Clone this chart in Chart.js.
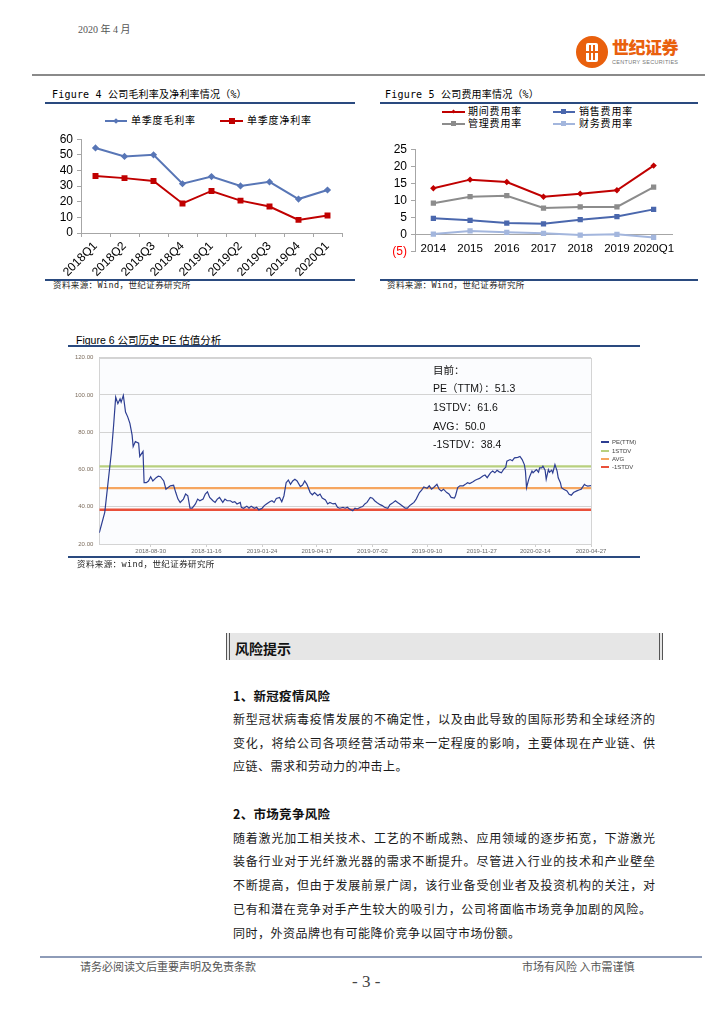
<!DOCTYPE html>
<html lang="zh-CN">
<head>
<meta charset="utf-8">
<title>公司毛利率、费用率及历史PE估值</title>
<script src="https://cdn.jsdelivr.net/npm/chart.js@4/dist/chart.umd.min.js"></script>
<style>
html,body{margin:0;padding:0;background:#fff;}
body{position:relative;width:724px;height:1024px;overflow:hidden;font-family:"Noto Sans CJK SC","DejaVu Sans",sans-serif;color:#000;}
.a{position:absolute;white-space:nowrap;line-height:1;}
canvas{position:absolute;}
.rule{position:absolute;height:2px;}
.ttl{font-family:"DejaVu Sans Mono","Noto Sans CJK SC",monospace;font-size:10px;letter-spacing:0.2px;color:#000;}
.src{font-family:"DejaVu Sans Mono","Noto Sans CJK SC",monospace;font-size:8.5px;letter-spacing:0.4px;color:#222;}
.lg{font-family:"Noto Sans CJK SC",sans-serif;font-size:10px;letter-spacing:0.8px;color:#000;}
.lgl{position:absolute;height:2px;}
.mk{position:absolute;}
.body{font-size:12px;color:#1a1a1a;}
.just{width:422px;text-align:justify;text-align-last:justify;}
.plain{letter-spacing:0.5px;}
.h2{font-size:12.5px;font-weight:700;color:#111;letter-spacing:0.3px;}
.ann{font-family:"Liberation Sans","Noto Sans CJK SC",sans-serif;font-size:10.5px;color:#111;}
.lg6{font-family:"Liberation Sans",sans-serif;font-size:6px;color:#444;}
</style>
</head>
<body>
<!-- header -->
<div class="a" style="left:78px;top:25px;font-family:'Liberation Serif','Noto Sans CJK SC',serif;font-size:10px;color:#555;">2020 年 4 月</div>
<div style="position:absolute;left:576px;top:36px;width:32px;height:32px;border-radius:50%;background:#e9600d;"></div>
<div style="position:absolute;left:586px;top:43px;width:12px;height:19px;background:#fff;border-radius:2px;"></div>
<div style="position:absolute;left:589px;top:45px;width:2px;height:15px;background:#e9600d;"></div>
<div style="position:absolute;left:593px;top:45px;width:2px;height:15px;background:#e9600d;"></div>
<div style="position:absolute;left:586px;top:51px;width:12px;height:2px;background:#e9600d;"></div>
<div class="a" style="left:612px;top:38px;font-size:17px;font-weight:900;color:#e9600d;letter-spacing:-0.5px;">世纪证券</div>
<div class="a" style="left:612px;top:60px;font-family:'Liberation Sans',sans-serif;font-size:5.5px;color:#777;letter-spacing:0.3px;">CENTURY SECURITIES</div>
<div class="rule" style="left:32px;top:74px;width:673px;background:#8a8a8a;"></div>

<!-- Figure 4 -->
<div class="a ttl" style="left:52px;top:90px;">Figure 4 公司毛利率及净利率情况（%）</div>
<div class="rule" style="left:45px;top:102px;width:310px;background:#2a4a7f;"></div>
<div class="lgl" style="left:105px;top:120px;width:22px;background:#5876b6;"></div>
<div class="mk" style="left:114px;top:119px;width:4px;height:4px;background:#5876b6;transform:rotate(45deg);"></div>
<div class="a lg" style="left:131px;top:115px;">单季度毛利率</div>
<div class="lgl" style="left:220px;top:120px;width:23px;background:#c00000;"></div>
<div class="mk" style="left:229px;top:118px;width:6px;height:6px;background:#c00000;"></div>
<div class="a lg" style="left:247px;top:115px;">单季度净利率</div>
<canvas id="c4" width="310" height="150" style="left:45px;top:128px;"></canvas>
<div class="rule" style="left:45px;top:279px;width:310px;background:#2a4a7f;"></div>
<div class="a src" style="left:53px;top:281px;">资料来源：Wind，世纪证券研究所</div>

<!-- Figure 5 -->
<div class="a ttl" style="left:385px;top:90px;">Figure 5 公司费用率情况（%）</div>
<div class="rule" style="left:380px;top:102px;width:318px;background:#2a4a7f;"></div>
<div class="lgl" style="left:442px;top:111px;width:23px;background:#c00000;"></div>
<div class="mk" style="left:452px;top:110px;width:3px;height:3px;background:#c00000;transform:rotate(45deg);"></div>
<div class="a lg" style="left:468px;top:106px;">期间费用率</div>
<div class="lgl" style="left:553px;top:111px;width:22px;background:#4a67ad;"></div>
<div class="mk" style="left:561px;top:109px;width:5px;height:5px;background:#4a67ad;"></div>
<div class="a lg" style="left:579px;top:106px;">销售费用率</div>
<div class="lgl" style="left:442px;top:123px;width:23px;background:#8c8c8c;"></div>
<div class="mk" style="left:451px;top:121px;width:5px;height:5px;background:#8c8c8c;"></div>
<div class="a lg" style="left:468px;top:118px;">管理费用率</div>
<div class="lgl" style="left:553px;top:123px;width:22px;background:#a3b6dd;"></div>
<div class="mk" style="left:561px;top:121px;width:5px;height:5px;background:#a3b6dd;"></div>
<div class="a lg" style="left:579px;top:118px;">财务费用率</div>
<canvas id="c5" width="310" height="125" style="left:380px;top:138px;"></canvas>
<div class="rule" style="left:380px;top:279px;width:318px;background:#2a4a7f;"></div>
<div class="a src" style="left:387px;top:281px;">资料来源：Wind，世纪证券研究所</div>

<!-- Figure 6 -->
<div class="a" style="left:76px;top:335px;font-family:'Liberation Sans','Noto Sans CJK SC',sans-serif;font-size:10.5px;">Figure 6 公司历史 PE 估值分析</div>
<div class="rule" style="left:68px;top:345px;width:572px;background:#2a4a7f;"></div>
<canvas id="c6" width="600" height="215" style="left:60px;top:348px;"></canvas>
<div id="ann"></div>
<div id="lg6"></div>
<div class="rule" style="left:68px;top:556px;width:572px;background:#2a4a7f;"></div>
<div class="a src" style="left:77px;top:560px;">资料来源：wind，世纪证券研究所</div>

<!-- 风险提示 -->
<div style="position:absolute;left:226px;top:633px;width:429px;height:27px;background:#e6e6e6;border-left:4px double #555;border-right:4px double #555;"></div>
<div class="a" style="left:235px;top:641px;font-size:14px;font-weight:700;color:#111;">风险提示</div>

<div class="a h2" style="left:233px;top:690px;">1、新冠疫情风险</div>
<div class="a body just" style="left:233px;top:713px;">新型冠状病毒疫情发展的不确定性，以及由此导致的国际形势和全球经济的</div>
<div class="a body just" style="left:233px;top:737px;">变化，将给公司各项经营活动带来一定程度的影响，主要体现在产业链、供</div>
<div class="a body plain" style="left:233px;top:760px;">应链、需求和劳动力的冲击上。</div>

<div class="a h2" style="left:233px;top:808px;">2、市场竞争风险</div>
<div class="a body just" style="left:233px;top:832px;">随着激光加工相关技术、工艺的不断成熟、应用领域的逐步拓宽，下游激光</div>
<div class="a body just" style="left:233px;top:855px;">装备行业对于光纤激光器的需求不断提升。尽管进入行业的技术和产业壁垒</div>
<div class="a body just" style="left:233px;top:879px;">不断提高，但由于发展前景广阔，该行业备受创业者及投资机构的关注，对</div>
<div class="a body just" style="left:233px;top:903px;width:418px;">已有和潜在竞争对手产生较大的吸引力，公司将面临市场竞争加剧的风险。</div>
<div class="a body plain" style="left:233px;top:927px;">同时，外资品牌也有可能降价竞争以固守市场份额。</div>

<!-- footer -->
<div class="rule" style="left:40px;top:956px;width:662px;background:#8e9cb8;"></div>
<div class="a" style="left:80px;top:961px;font-size:11px;color:#555;">请务必阅读文后重要声明及免责条款</div>
<div class="a" style="left:522px;top:961px;font-size:11px;color:#555;">市场有风险 入市需谨慎</div>
<div class="a" style="left:352px;top:973px;font-family:'Liberation Serif',serif;font-size:17px;color:#444;">- 3 -</div>

<script>
// ---------- Figure 4 data ----------
const quarters = ['2018Q1','2018Q2','2018Q3','2018Q4','2019Q1','2019Q2','2019Q3','2019Q4','2020Q1'];
const grossMargin = [54.4, 49.0, 50.0, 31.5, 36.1, 30.1, 32.7, 21.7, 27.5];
const netMargin   = [36.5, 35.1, 33.3, 18.9, 26.9, 20.7, 16.9, 8.4, 11.2];

// ---------- Figure 5 data ----------
const years = ['2014','2015','2016','2017','2018','2019','2020Q1'];
const periodExpense  = [13.6, 16.1, 15.4, 11.1, 12.0, 13.0, 20.2];
const salesExpense   = [4.8, 4.2, 3.4, 3.2, 4.4, 5.3, 7.4];
const adminExpense   = [9.2, 11.1, 11.4, 7.8, 8.1, 8.1, 13.9];
const financeExpense = [0.2, 1.1, 0.7, 0.4, -0.1, 0.1, -0.8];

// ---------- Figure 6 data (trading-day index, PE TTM) ----------
const peTickDays = [47, 98, 149, 199, 250, 300, 350, 399, 450];
const peTickLabels = ['2018-08-30','2018-11-16','2019-01-24','2019-04-17','2019-07-02','2019-09-10','2019-11-27','2020-02-14','2020-04-27'];
const peDays = [0,5,8,11,13,15,17,19,20,22,24,26,28,30,31,33,36,37,40,41,43,45,47,49,52,54,56,59,61,63,65,68,70,72,74,77,79,81,83,85,88,90,92,95,97,99,101,104,106,108,110,113,115,117,120,122,124,126,129,130,132,135,137,139,142,144,146,149,151,153,156,158,160,162,165,167,169,171,173,175,177,179,181,184,186,188,190,193,195,197,200,202,204,207,209,211,214,216,218,220,223,225,227,229,232,234,236,239,241,243,245,248,250,252,254,257,259,261,264,266,268,271,273,275,278,280,282,284,286,288,290,293,295,297,300,302,304,306,309,311,313,315,318,320,322,325,326,328,330,333,335,337,339,342,344,346,348,351,353,355,358,360,362,364,366,368,370,372,373,376,378,380,383,385,387,389,390,391,393,394,396,397,400,402,403,405,406,408,409,411,412,414,415,417,419,420,422,423,425,428,430,432,434,437,439,441,444,445,447,450];
const peValues = [26.0,37.0,52.9,68.8,82.9,98.8,95.3,97.9,96.1,99.7,
  90.8,88.2,84.7,78.5,72.3,75.0,74.1,67.0,69.7,52.9,
  52.9,53.8,56.1,53.8,55.6,56.4,56.1,53.8,49.4,50.3,
  51.2,51.5,47.6,44.1,42.3,44.1,46.8,45.9,39.2,39.2,
  41.5,44.1,43.2,44.1,46.8,48.0,45.0,43.2,42.3,44.1,
  45.0,42.3,44.1,43.2,43.2,42.3,42.7,41.5,42.3,39.7,
  39.2,40.3,39.2,40.3,39.2,39.7,38.3,39.2,40.6,41.5,
  42.7,43.2,42.3,44.4,45.0,42.7,45.9,52.9,54.3,52.0,
  53.8,54.7,53.8,50.8,51.6,53.8,52.0,47.6,46.4,47.6,
  45.9,46.8,44.6,43.6,41.5,42.3,41.5,41.8,39.7,39.2,
  39.7,39.2,39.7,38.8,37.9,39.2,38.8,39.7,40.1,41.5,
  42.3,45.0,44.6,43.2,42.3,41.1,40.6,39.7,39.2,41.1,
  41.8,43.2,42.3,41.5,40.1,39.2,39.2,40.6,41.5,42.3,
  44.1,47.6,48.9,50.6,49.9,51.2,49.4,50.3,52.0,49.4,
  48.5,49.4,47.6,46.8,45.0,44.6,45.9,50.3,51.2,51.2,
  52.0,52.9,52.4,53.4,54.2,54.7,55.2,56.5,57.0,55.6,
  58.2,59.1,58.2,59.5,58.7,58.2,60.0,61.2,64.4,65.3,
  64.7,66.2,66.5,67.0,65.3,62.6,59.1,50.2,54.7,56.4,
  59.1,58.2,59.9,58.5,60.8,60.8,61.7,59.6,54.7,59.9,
  58.5,59.6,58.2,62.6,59.1,55.5,52.9,50.2,49.4,48.5,
  46.7,46.2,47.6,48.5,49.0,49.4,52.0,51.5,51.1,51.3];
const peCurrent = 51.3;
const peStdUp = 61.6;
const peAvg = 50.0;
const peStdDown = 38.4;

// ---------- shared ----------
Chart.defaults.animation = false;
Chart.defaults.devicePixelRatio = 1;
Chart.defaults.responsive = false;
Chart.defaults.plugins.tooltip.enabled = false;
Chart.defaults.plugins.legend.display = false;
const AR = 'Liberation Sans, Arial, sans-serif';
const AXIS = '#a6a6a6';

const plotFrame = {
  id: 'plotFrame',
  beforeDraw(chart, args, opts) {
    if (!opts || !opts.fill) return;
    const {ctx, chartArea: a} = chart;
    ctx.save(); ctx.fillStyle = opts.fill; ctx.fillRect(a.left, a.top, a.width, a.height); ctx.restore();
  },
  beforeDatasetsDraw(chart, args, opts) {
    if (!opts || !opts.stroke) return;
    const {ctx, chartArea: a} = chart;
    ctx.save(); ctx.strokeStyle = opts.stroke; ctx.lineWidth = 1;
    ctx.strokeRect(Math.round(a.left) + 0.5, Math.round(a.top) + 0.5, Math.round(a.width), Math.round(a.height));
    ctx.restore();
  }
};

// ---------- Figure 4 ----------
new Chart(document.getElementById('c4'), {
  type: 'line',
  data: {
    labels: quarters,
    datasets: [
      {label: '单季度毛利率', data: grossMargin, borderColor: '#5876b6', backgroundColor: '#5876b6', borderWidth: 2, pointStyle: 'rectRot', pointRadius: 2.2, tension: 0},
      {label: '单季度净利率', data: netMargin, borderColor: '#c00000', backgroundColor: '#c00000', borderWidth: 2, pointStyle: 'rect', pointRadius: 2.8, tension: 0}
    ]
  },
  options: {
    layout: {padding: {left: 0, right: 13, top: 4, bottom: 0}},
    scales: {
      x: {
        offset: true,
        grid: {offset: true, drawOnChartArea: false, tickLength: 4, color: AXIS},
        border: {color: AXIS},
        ticks: {minRotation: 45, maxRotation: 45, autoSkip: false, padding: 2, color: '#000', font: {family: AR, size: 12}},
        afterFit(s) { s.height = 45; }
      },
      y: {
        min: 0, max: 60,
        grid: {drawOnChartArea: false, tickLength: 4, color: AXIS},
        border: {color: AXIS},
        ticks: {stepSize: 10, autoSkip: false, padding: 4, color: '#000', font: {family: AR, size: 12}},
        afterFit(s) { s.width = 36; }
      }
    }
  }
});

// ---------- Figure 5 ----------
new Chart(document.getElementById('c5'), {
  type: 'line',
  data: {
    labels: years,
    datasets: [
      {label: '期间费用率', data: periodExpense, borderColor: '#c00000', backgroundColor: '#c00000', borderWidth: 2, pointStyle: 'rectRot', pointRadius: 1.8, tension: 0},
      {label: '销售费用率', data: salesExpense, borderColor: '#4a67ad', backgroundColor: '#4a67ad', borderWidth: 2, pointStyle: 'rect', pointRadius: 2.3, tension: 0},
      {label: '管理费用率', data: adminExpense, borderColor: '#8c8c8c', backgroundColor: '#8c8c8c', borderWidth: 2, pointStyle: 'rect', pointRadius: 2.3, tension: 0},
      {label: '财务费用率', data: financeExpense, borderColor: '#a3b6dd', backgroundColor: '#a3b6dd', borderWidth: 2, pointStyle: 'rect', pointRadius: 2.3, tension: 0}
    ]
  },
  options: {
    layout: {padding: {left: 0, right: 18, top: 6, bottom: 8.6}},
    scales: {
      x: {
        position: {y: 0},
        offset: true,
        grid: {display: false, tickLength: 4},
        border: {color: AXIS},
        ticks: {autoSkip: false, maxRotation: 0, padding: 3, color: '#000', font: {family: AR, size: 11.5}}
      },
      y: {
        min: -5, max: 25,
        grid: {drawOnChartArea: false, tickLength: 4, color: AXIS},
        border: {color: AXIS},
        ticks: {
          stepSize: 5, autoSkip: false, padding: 4,
          font: {family: AR, size: 12},
          color: c => (c.tick && c.tick.value < 0) ? '#ff0000' : '#000',
          callback: v => v < 0 ? '(' + (-v) + ')' : String(v)
        },
        afterFit(s) { s.width = 35; }
      }
    }
  }
});

// ---------- Figure 6 ----------
const peFirst = peDays[0], peLast = peDays[peDays.length - 1];
const pePoints = peDays.map((d, i) => ({x: d, y: peValues[i]}));
const flat = v => [{x: peFirst, y: v}, {x: peLast, y: v}];
const series6 = [
  {label: 'PE(TTM)', color: '#2d3e92', data: pePoints, width: 1.2, order: 0},
  {label: '1STDV', color: '#b8d07e', data: flat(peStdUp), width: 2.2, order: 3},
  {label: 'AVG', color: '#f6a660', data: flat(peAvg), width: 2.2, order: 2},
  {label: '-1STDV', color: '#e9503a', data: flat(peStdDown), width: 2.6, order: 1}
];
new Chart(document.getElementById('c6'), {
  type: 'line',
  data: {
    datasets: series6.map(s => ({
      label: s.label, data: s.data, borderColor: s.color, backgroundColor: s.color,
      borderWidth: s.width, pointRadius: 0, tension: 0, order: s.order
    }))
  },
  plugins: [plotFrame],
  options: {
    layout: {padding: {left: 0, right: 69, top: 7, bottom: 7}},
    plugins: {plotFrame: {fill: '#fbfcfe', stroke: '#d4d4d4'}},
    scales: {
      x: {
        type: 'linear', min: peFirst, max: peLast,
        afterBuildTicks(s) { s.ticks = peTickDays.map(v => ({value: v})); },
        grid: {drawOnChartArea: false, tickLength: 3, color: '#cfcfcf'},
        border: {color: '#cfcfcf'},
        ticks: {autoSkip: false, maxRotation: 0, padding: 1, color: '#6b6b6b', font: {family: AR, size: 6},
          callback: (v, i) => peTickLabels[i]},
        afterFit(s) { s.height = 12; }
      },
      y: {
        min: 20, max: 120,
        grid: {color: '#d3d3d3', drawTicks: false},
        border: {color: '#cfcfcf'},
        ticks: {stepSize: 20, autoSkip: false, padding: 6, color: '#7d6d5d', font: {family: AR, size: 6},
          callback: v => v.toFixed(2)},
        afterFit(s) { s.width = 39.3; }
      }
    }
  }
});

// annotation text built from the values
const annLines = [
  ['目前：', 370],
  ['PE（TTM）：' + peCurrent.toFixed(1), 388],
  ['1STDV：' + peStdUp.toFixed(1), 407],
  ['AVG：' + peAvg.toFixed(1), 426],
  ['-1STDV：' + peStdDown.toFixed(1), 444]
];
document.getElementById('ann').innerHTML = annLines.map(([t, y]) =>
  `<div class="a ann" style="left:433px;top:${y - 5.5}px;">${t}</div>`).join('');

// legend for figure 6
const lgRows = [442, 451, 459, 467];
document.getElementById('lg6').innerHTML = series6.map((s, i) =>
  `<div class="lgl" style="left:601px;top:${lgRows[i] - 1}px;width:8px;height:1.6px;background:${s.color};"></div>` +
  `<div class="a lg6" style="left:612px;top:${lgRows[i] - 3}px;">${s.label}</div>`).join('');
</script>
</body>
</html>
